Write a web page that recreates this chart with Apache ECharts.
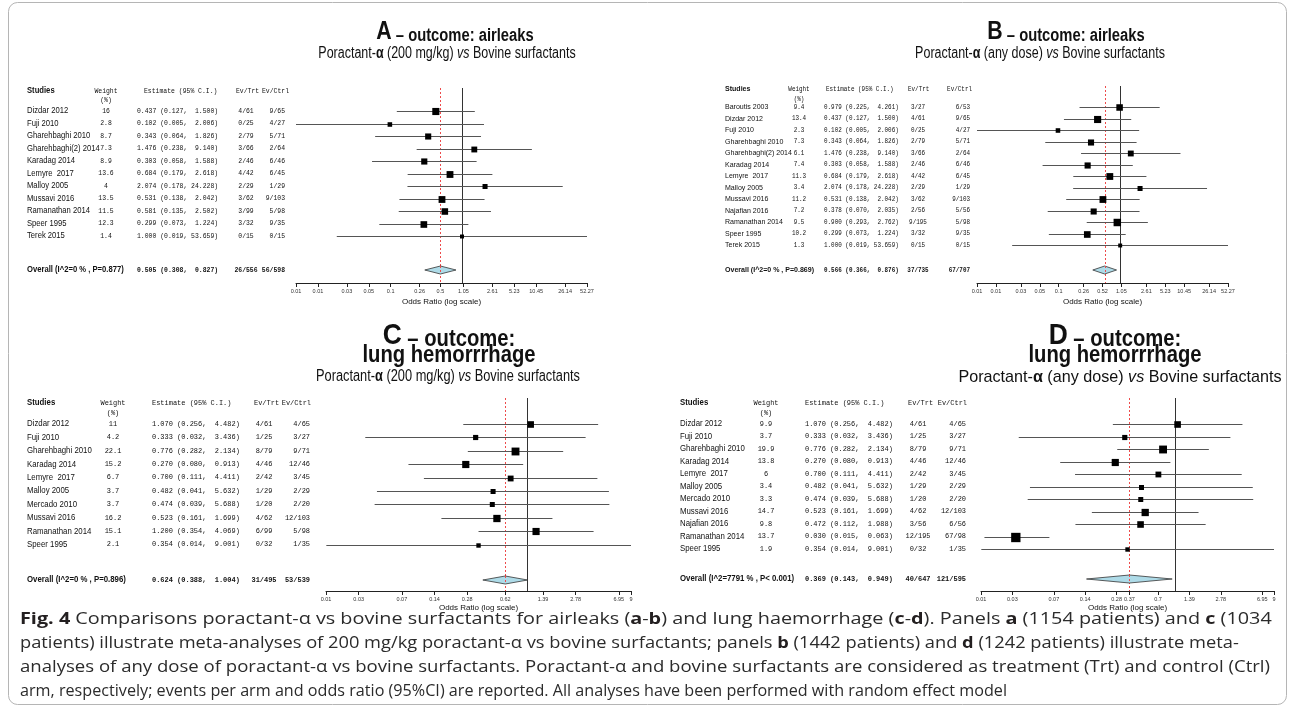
<!DOCTYPE html>
<html><head><meta charset="utf-8">
<script src="https://cdn.jsdelivr.net/npm/echarts@6/dist/echarts.min.js"></script>
<style>html,body{margin:0;padding:0;background:#fff;}#c{width:1295px;height:710px;}</style>
</head><body><div id="c"></div>
<script>
// ---------- Panel A ----------
const studiesA = ['Dizdar 2012','Fuji 2010','Gharehbaghi 2010','Gharehbaghi(2) 2014','Karadag 2014','Lemyre  2017','Malloy 2005','Mussavi 2016','Ramanathan 2014','Speer 1995','Terek 2015'];
const weightsA = [16,2.8,8.7,7.3,8.9,13.6,4,13.5,11.5,12.3,1.4];
const estA  = [0.437,0.102,0.343,1.476,0.303,0.684,2.074,0.531,0.581,0.299,1.000];
const lowA  = [0.127,0.005,0.064,0.238,0.058,0.179,0.178,0.138,0.135,0.073,0.019];
const highA = [1.500,2.006,1.826,9.140,1.588,2.618,24.228,2.042,2.502,1.224,53.659];
const evTrtA  = ['4/61','0/25','2/79','3/66','2/46','4/42','2/29','3/62','3/99','3/32','0/15'];
const evCtrlA = ['9/65','4/27','5/71','2/64','6/46','6/45','1/29','9/103','5/98','9/35','0/15'];
const overallLabelA = 'Overall (I^2=0 % , P=0.877)';
const overallA = [0.505,0.308,0.827];
const overallEvA = ['26/556','56/598'];
const ticksA = [0.005227,0.010454,0.026135,0.05227,0.10454,0.26135,0.505,1.0454,2.6135,5.227,10.454,26.135,52.27];
const tickLabelsA = ['0.01','0.01','0.03','0.05','0.1','0.26','0.5','1.05','2.61','5.23','10.45','26.14','52.27'];

// ---------- Panel B ----------
const studiesB = ['Baroutis 2003','Dizdar 2012','Fuji 2010','Gharehbaghi 2010','Gharehbaghi(2) 2014','Karadag 2014','Lemyre  2017','Malloy 2005','Mussavi 2016','Najafian 2016','Ramanathan 2014','Speer 1995','Terek 2015'];
const weightsB = [9.4,13.4,2.3,7.3,6.1,7.4,11.3,3.4,11.2,7.2,9.5,10.2,1.3];
const estB  = [0.979,0.437,0.102,0.343,1.476,0.303,0.684,2.074,0.531,0.378,0.900,0.299,1.000];
const lowB  = [0.225,0.127,0.005,0.064,0.238,0.058,0.179,0.178,0.138,0.070,0.293,0.073,0.019];
const highB = [4.261,1.500,2.006,1.826,9.140,1.588,2.618,24.228,2.042,2.035,2.762,1.224,53.659];
const evTrtB  = ['3/27','4/61','0/25','2/79','3/66','2/46','4/42','2/29','3/62','2/56','9/195','3/32','0/15'];
const evCtrlB = ['6/53','9/65','4/27','5/71','2/64','6/46','6/45','1/29','9/103','5/56','5/98','9/35','0/15'];
const overallLabelB = 'Overall (I^2=0 % , P=0.869)';
const overallB = [0.566,0.366,0.876];
const overallEvB = ['37/735','67/707'];
const ticksB = [0.005227,0.010454,0.026135,0.05227,0.10454,0.26135,0.5227,1.0454,2.6135,5.227,10.454,26.135,52.27];
const tickLabelsB = ['0.01','0.01','0.03','0.05','0.1','0.26','0.52','1.05','2.61','5.23','10.45','26.14','52.27'];

// ---------- Panel C ----------
const studiesC = ['Dizdar 2012','Fuji 2010','Gharehbaghi 2010','Karadag 2014','Lemyre  2017','Malloy 2005','Mercado 2010','Mussavi 2016','Ramanathan 2014','Speer 1995'];
const weightsC = [11,4.2,22.1,15.2,6.7,3.7,3.7,16.2,15.1,2.1];
const estC  = [1.070,0.333,0.776,0.270,0.700,0.482,0.474,0.523,1.200,0.354];
const lowC  = [0.256,0.032,0.282,0.080,0.111,0.041,0.039,0.161,0.354,0.014];
const highC = [4.482,3.436,2.134,0.913,4.411,5.632,5.688,1.699,4.069,9.001];
const evTrtC  = ['4/61','1/25','8/79','4/46','2/42','1/29','1/20','4/62','6/99','0/32'];
const evCtrlC = ['4/65','3/27','9/71','12/46','3/45','2/29','2/20','12/103','5/98','1/35'];
const overallLabelC = 'Overall (I^2=0 % , P=0.896)';
const overallC = [0.624,0.388,1.004];
const overallEvC = ['31/495','53/539'];
const ticksC = [0.0139,0.0278,0.0695,0.139,0.278,0.624,1.39,2.78,6.95,9.001];
const tickLabelsC = ['0.01','0.03','0.07','0.14','0.28','0.62','1.39','2.78','6.95','9'];

// ---------- Panel D ----------
const studiesD = ['Dizdar 2012','Fuji 2010','Gharehbaghi 2010','Karadag 2014','Lemyre  2017','Malloy 2005','Mercado 2010','Mussavi 2016','Najafian 2016','Ramanathan 2014','Speer 1995'];
const weightsD = [9.9,3.7,19.9,13.8,6,3.4,3.3,14.7,9.8,13.7,1.9];
const estD  = [1.070,0.333,0.776,0.270,0.700,0.482,0.474,0.523,0.472,0.030,0.354];
const lowD  = [0.256,0.032,0.282,0.080,0.111,0.041,0.039,0.161,0.112,0.015,0.014];
const highD = [4.482,3.436,2.134,0.913,4.411,5.632,5.688,1.699,1.988,0.063,9.001];
const evTrtD  = ['4/61','1/25','8/79','4/46','2/42','1/29','1/20','4/62','3/56','12/195','0/32'];
const evCtrlD = ['4/65','3/27','9/71','12/46','3/45','2/29','2/20','12/103','6/56','67/98','1/35'];
const overallLabelD = 'Overall (I^2=7791 % , P< 0.001)';
const overallD = [0.369,0.143,0.949];
const overallEvD = ['40/647','121/595'];
const ticksD = [0.0139,0.0278,0.0695,0.139,0.278,0.369,0.695,1.39,2.78,6.95,9.001];
const tickLabelsD = ['0.01','0.03','0.07','0.14','0.28','0.37','0.7','1.39','2.78','6.95','9'];

// ---------- Titles & caption text ----------
const titleLetters = ['A','B','C','D'];
const titleOutcomes = ['airleaks','airleaks','lung hemorrrhage','lung hemorrrhage'];
const titleDoses = ['(200 mg/kg)','(any dose)','(200 mg/kg)','(any dose)'];
const captionLines = [
 '{b|Fig. 4} Comparisons poractant-α vs bovine surfactants for airleaks ({b|a}-{b|b}) and lung haemorrhage ({b|c}-{b|d}). Panels {b|a} (1154 patients) and {b|c} (1034',
 'patients) illustrate meta-analyses of 200 mg/kg poractant-α vs bovine surfactants; panels {b|b} (1442 patients) and {b|d} (1242 patients) illustrate meta-',
 'analyses of any dose of poractant-α vs bovine surfactants. Poractant-α and bovine surfactants are considered as treatment (Trt) and control (Ctrl)',
 'arm, respectively; events per arm and odds ratio (95%CI) are reported. All analyses have been performed with random effect model'
];

// ---------- layout (pixels, styles) ----------
const layouts = [
 {plotL:296,plotR:587,lineTop:88,row0:111,rowH:12.5,ovY:270,axisY:283,headY:91,pctY:100,cStud:27,cW:106,cEst:137,cEstH:144,cT:246,cTH:236,cC:285,cCH:289,mono:7,monoSX:0.92,sans:8.5,sansSX:0.9,min:0.005227,max:52.27,nameGap:15,
  tX:455,tY:31,t2Y:null,lS:26,tS:18,tSX:0.82,sX:447,sY:54,sS:16,sSX:0.78},
 {plotL:977,plotR:1228,lineTop:86,row0:107,rowH:11.5,ovY:270,axisY:283,headY:89,pctY:99,cStud:725,cW:799,cEst:824,cEstH:826,cT:918,cTH:908,cC:970,cCH:972,mono:6.6,monoSX:0.9,sans:8,sansSX:0.88,min:0.005227,max:52.27,nameGap:15,
  tX:1066,tY:31,t2Y:null,lS:26,tS:18,tSX:0.82,sX:1040,sY:54,sS:16,sSX:0.78},
 {plotL:326,plotR:631,lineTop:398,row0:424,rowH:13.4,ovY:580,axisY:591,headY:403,pctY:413,cStud:27,cW:113,cEst:152,cEstH:152,cT:264,cTH:254,cC:310,cCH:311,mono:7.2,monoSX:0.97,sans:8.7,sansSX:0.9,min:0.0139,max:9.001,nameGap:13,
  tX:449,tY:335,t2Y:356,lS:30,tS:23,tSX:0.88,sX:448,sY:377,sS:16,sSX:0.8},
 {plotL:981,plotR:1274,lineTop:398,row0:424,rowH:12.5,ovY:579,axisY:591,headY:403,pctY:413,cStud:680,cW:766,cEst:805,cEstH:805,cT:918,cTH:908,cC:966,cCH:967,mono:7.2,monoSX:0.97,sans:8.7,sansSX:0.9,min:0.0139,max:9.001,nameGap:13,
  tX:1115,tY:335,t2Y:356,lS:30,tS:23,tSX:0.88,sX:1120,sY:377,sS:17,sSX:0.95}
];

const panels = [
 {studies:studiesA,weights:weightsA,est:estA,low:lowA,high:highA,evT:evTrtA,evC:evCtrlA,ovLabel:overallLabelA,ov:overallA,ovEv:overallEvA,ticks:ticksA,tickLabels:tickLabelsA},
 {studies:studiesB,weights:weightsB,est:estB,low:lowB,high:highB,evT:evTrtB,evC:evCtrlB,ovLabel:overallLabelB,ov:overallB,ovEv:overallEvB,ticks:ticksB,tickLabels:tickLabelsB},
 {studies:studiesC,weights:weightsC,est:estC,low:lowC,high:highC,evT:evTrtC,evC:evCtrlC,ovLabel:overallLabelC,ov:overallC,ovEv:overallEvC,ticks:ticksC,tickLabels:tickLabelsC},
 {studies:studiesD,weights:weightsD,est:estD,low:lowD,high:highD,evT:evTrtD,evC:evCtrlD,ovLabel:overallLabelD,ov:overallD,ovEv:overallEvD,ticks:ticksD,tickLabels:tickLabelsD}
];

const SANS = '"Liberation Sans", Arial, Helvetica, sans-serif';
const MONO = '"Liberation Mono", "DejaVu Sans Mono", monospace';
const RED = '#ee4b4b';
const f3 = v => v.toFixed(3);
const estStr = (e,lo,hi) => f3(e)+' ('+f3(lo)+', '+f3(hi).padStart(6,' ')+')';

const option = {animation:false, backgroundColor:'#fff', grid:[], xAxis:[], yAxis:[], series:[], graphic:[]};

panels.forEach((p,k)=>{
  const L = layouts[k];
  const n = p.studies.length;
  const yMin = -(L.row0-L.lineTop)/L.rowH, yMax = (L.axisY-L.row0)/L.rowH;
  const ovRow = (L.ovY-L.row0)/L.rowH, headRow = (L.headY-L.row0)/L.rowH, pctRow = (L.pctY-L.row0)/L.rowH;
  option.grid.push({left:L.plotL, top:L.lineTop, width:L.plotR-L.plotL, height:L.axisY-L.lineTop, containLabel:false, outerBoundsMode:'none'});
  const labelOf = v => { for (let i=0;i<p.ticks.length;i++){ if (Math.abs(v-p.ticks[i])/p.ticks[i] < 0.005) return p.tickLabels[i]; } return ''; };
  option.xAxis.push({type:'log', logBase:10, gridIndex:k, min:L.min, max:L.max,
    axisLine:{show:true, onZero:false, lineStyle:{color:'#222', width:1}},
    axisTick:{show:true, length:4, customValues:p.ticks, lineStyle:{color:'#222', width:1}},
    axisLabel:{show:true, customValues:p.ticks, fontSize:5.5, fontFamily:SANS, color:'#333', margin:5, formatter:labelOf, hideOverlap:false},
    splitLine:{show:false}, minorTick:{show:false},
    name:'Odds Ratio (log scale)', nameLocation:'middle', nameGap:L.nameGap, nameTextStyle:{fontSize:8, fontFamily:SANS, color:'#111'}});
  option.yAxis.push({type:'value', gridIndex:k, inverse:true, min:yMin, max:yMax, show:false});

  // reference lines (OR = 1 solid, overall estimate red dashed)
  option.series.push({type:'custom', xAxisIndex:k, yAxisIndex:k, coordinateSystem:'cartesian2d', silent:true, z:1,
    data:[[1,0]], encode:{x:0,y:1},
    renderItem:(params, api)=>{
      const a = api.coord([1,yMin]), b = api.coord([1,yMax]);
      const c = api.coord([p.ov[0],yMin]), d = api.coord([p.ov[0],yMax]);
      return {type:'group', children:[
        {type:'line', shape:{x1:Math.round(a[0])+0.5,y1:a[1],x2:Math.round(b[0])+0.5,y2:b[1]}, style:{stroke:'#333',lineWidth:1}},
        {type:'line', shape:{x1:Math.round(c[0])+0.5,y1:c[1],x2:Math.round(d[0])+0.5,y2:d[1]}, style:{stroke:RED,lineWidth:1,lineDash:[2,2]}}
      ]};
    }});

  // study CIs and boxes
  option.series.push({type:'custom', xAxisIndex:k, yAxisIndex:k, coordinateSystem:'cartesian2d', silent:true, z:2,
    data:p.est.map((e,i)=>[e,p.low[i],p.high[i],i]), encode:{x:0,y:3},
    renderItem:(params, api)=>{
      const y = api.value(3), e = api.value(0), lo0 = api.value(1), hi0 = api.value(2);
      const lo = Math.max(lo0, L.min), hi = Math.min(hi0, L.max);
      const a = api.coord([lo,y]), b = api.coord([hi,y]), c = api.coord([e,y]);
      const s = 5.65*Math.sqrt(3.92/Math.log(hi0/lo0));
      const yy = Math.round(a[1])+0.5;
      return {type:'group', children:[
        {type:'line', shape:{x1:a[0],y1:yy,x2:b[0],y2:yy}, style:{stroke:'#555',lineWidth:1}},
        {type:'rect', shape:{x:c[0]-s/2,y:yy-s/2,width:s,height:s}, style:{fill:'#000'}}
      ]};
    }});

  // overall diamond
  option.series.push({type:'custom', xAxisIndex:k, yAxisIndex:k, coordinateSystem:'cartesian2d', silent:true, z:3,
    data:[[p.ov[0],p.ov[1],p.ov[2],ovRow]], encode:{x:0,y:3},
    renderItem:(params, api)=>{
      const y = api.value(3);
      const c = api.coord([api.value(0),y]), a = api.coord([api.value(1),y]), b = api.coord([api.value(2),y]);
      const h = 4;
      return {type:'group', children:[
        {type:'polygon', shape:{points:[[a[0],c[1]],[c[0],c[1]-h],[b[0],c[1]],[c[0],c[1]+h]]}, style:{fill:'#aedbe8',stroke:'#333',lineWidth:0.8}},
        {type:'line', shape:{x1:Math.round(c[0])+0.5,y1:c[1]-h,x2:Math.round(c[0])+0.5,y2:c[1]+h}, style:{stroke:RED,lineWidth:1,lineDash:[2,2]}}
      ]};
    }});

  // table text
  const tdata = p.studies.map((s,i)=>[1,i]);
  tdata.push([1,ovRow],[1,headRow],[1,pctRow]);
  option.series.push({type:'custom', xAxisIndex:k, yAxisIndex:k, coordinateSystem:'cartesian2d', silent:true, z:4, clip:false,
    data:tdata, encode:{x:0,y:1},
    renderItem:(params, api)=>{
      const i = params.dataIndex;
      const y = api.coord([1, api.value(1)])[1];
      const mono = (t,x,al,bold)=>({type:'text', x:x, y:y, scaleX:L.monoSX, style:{text:t, fontFamily:MONO, fontSize:L.mono, fontWeight:bold?'bold':'normal', fill:'#111', textAlign:al, verticalAlign:'middle'}});
      const sans = (t,x,bold)=>({type:'text', x:x, y:y, scaleX:L.sansSX, style:{text:t, fontFamily:SANS, fontSize:L.sans, fontWeight:bold?'bold':'normal', fill:'#111', textAlign:'left', verticalAlign:'middle'}});
      let ch = [];
      if (i < n) {
        ch = [sans(p.studies[i], L.cStud, false), mono(String(p.weights[i]), L.cW, 'center'),
              mono(estStr(p.est[i],p.low[i],p.high[i]), L.cEst, 'left'), mono(p.evT[i], L.cT, 'center'), mono(p.evC[i], L.cC, 'right')];
      } else if (i === n) {
        ch = [sans(p.ovLabel, L.cStud, true), mono(estStr(p.ov[0],p.ov[1],p.ov[2]), L.cEst, 'left', true),
              mono(p.ovEv[0], L.cT, 'center', true), mono(p.ovEv[1], L.cC, 'right', true)];
      } else if (i === n+1) {
        ch = [sans('Studies', L.cStud, true), mono('Weight', L.cW, 'center'), mono('Estimate (95% C.I.)', L.cEstH, 'left'),
              mono('Ev/Trt', L.cTH, 'left'), mono('Ev/Ctrl', L.cCH, 'right')];
      } else {
        ch = [mono('(%)', L.cW, 'center')];
      }
      return {type:'group', children:ch};
    }});

  // titles
  const letter = titleLetters[k];
  const tStyle = {rich:{L:{fontSize:L.lS,fontWeight:'bold',fontFamily:SANS,fill:'#111',verticalAlign:'bottom',lineHeight:L.lS+2},
                        T:{fontSize:L.tS,fontWeight:'bold',fontFamily:SANS,fill:'#111',verticalAlign:'bottom',lineHeight:L.tS+6}}};
  if (L.t2Y === null) {
    option.graphic.push({type:'text', x:L.tX, y:L.tY, scaleX:L.tSX, style:Object.assign({text:'{L|'+letter+'}{T| – outcome: '+titleOutcomes[k]+'}', textAlign:'center', verticalAlign:'middle'}, tStyle)});
  } else {
    option.graphic.push({type:'text', x:L.tX, y:L.tY, scaleX:L.tSX, style:Object.assign({text:'{L|'+letter+'}{T| – outcome:}', textAlign:'center', verticalAlign:'middle'}, tStyle)});
    option.graphic.push({type:'text', x:L.tX, y:L.t2Y, scaleX:L.tSX, style:{text:titleOutcomes[k], fontSize:L.tS, fontWeight:'bold', fontFamily:SANS, fill:'#111', textAlign:'center', verticalAlign:'middle'}});
  }
  option.graphic.push({type:'text', x:L.sX, y:L.sY, scaleX:L.sSX, style:{text:'{n|Poractant-}{b|α}{n| '+titleDoses[k]+' }{i|vs}{n| Bovine surfactants}', textAlign:'center', verticalAlign:'middle',
    rich:{n:{fontSize:L.sS,fontFamily:SANS,fill:'#111'}, b:{fontSize:L.sS,fontWeight:'bold',fontFamily:SANS,fill:'#111'}, i:{fontSize:L.sS,fontStyle:'italic',fontFamily:SANS,fill:'#111'}}}});
});

// caption
const CAPF = '"Open Sans", "Noto Sans", sans-serif';
const CAPS = 16;
const cv = document.createElement('canvas').getContext('2d');
cv.font = CAPS + 'px "Open Sans"';
const capTargetW = [1245, 1218, 1250, 987];
const capY = [619, 643, 667, 691];
captionLines.forEach((t,i)=>{
  const plain = t.replace(/\{b\|([^}]*)\}/g,'$1');
  const sc = capTargetW[i] / cv.measureText(plain).width;
  option.graphic.push({type:'text', x:20, y:capY[i], scaleX:sc, style:{text:t, fontSize:CAPS, fontFamily:CAPF, fill:'#2b2b2b', textAlign:'left', verticalAlign:'middle',
    rich:{b:{fontSize:CAPS, fontFamily:CAPF, fontWeight:'bold', fill:'#231f20'}}}});
});
// frame
option.graphic.push({type:'rect', z:-1, shape:{x:8.5,y:2.5,width:1278,height:702,r:9}, style:{fill:'none', stroke:'#b5b5b5', lineWidth:1}});

const chart = echarts.init(document.getElementById('c'), null, {renderer:'canvas'});
chart.setOption(option);
</script></body></html>
